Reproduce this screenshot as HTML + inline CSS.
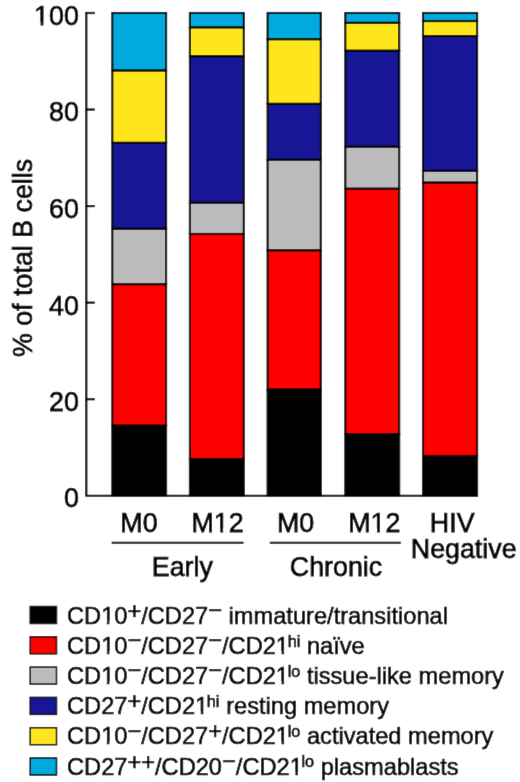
<!DOCTYPE html>
<html><head><meta charset="utf-8"><style>
html,body{margin:0;padding:0;background:#fff;}
body{width:520px;height:782px;overflow:hidden;}
svg{display:block;will-change:transform;}
text{font-family:"Liberation Sans",sans-serif;fill:#000;}
.t26{font-size:26.8px;stroke:#000;stroke-width:0.75px;}
.ttl{font-size:26.8px;stroke:#000;stroke-width:0.75px;}
.t22{font-size:24px;stroke:#000;stroke-width:0.6px;}
</style></head><body>
<svg width="520" height="782" viewBox="0 0 520 782">
<defs><filter id="soft" x="0" y="0" width="520" height="782" filterUnits="userSpaceOnUse"><feConvolveMatrix order="3" kernelMatrix="0.00524 0.06192 0.00524 0.06192 0.73137 0.06192 0.00524 0.06192 0.00524" edgeMode="duplicate"/></filter></defs>
<g filter="url(#soft)">
<rect x="0" y="0" width="520" height="782" fill="#fff"/>
<rect x="112.30" y="13.00" width="53.80" height="57.60" fill="#02aade" stroke="#000" stroke-width="2.1"/>
<rect x="112.30" y="70.60" width="53.80" height="72.30" fill="#ffe61a" stroke="#000" stroke-width="2.1"/>
<rect x="112.30" y="142.90" width="53.80" height="86.00" fill="#181896" stroke="#000" stroke-width="2.1"/>
<rect x="112.30" y="228.90" width="53.80" height="55.40" fill="#bcbcbc" stroke="#000" stroke-width="2.1"/>
<rect x="112.30" y="284.30" width="53.80" height="141.40" fill="#ff0000" stroke="#000" stroke-width="2.1"/>
<rect x="112.30" y="425.70" width="53.80" height="70.05" fill="#000000" stroke="#000" stroke-width="2.1"/>
<rect x="189.90" y="13.00" width="53.90" height="14.50" fill="#02aade" stroke="#000" stroke-width="2.1"/>
<rect x="189.90" y="27.50" width="53.90" height="28.80" fill="#ffe61a" stroke="#000" stroke-width="2.1"/>
<rect x="189.90" y="56.30" width="53.90" height="146.50" fill="#181896" stroke="#000" stroke-width="2.1"/>
<rect x="189.90" y="202.80" width="53.90" height="31.20" fill="#bcbcbc" stroke="#000" stroke-width="2.1"/>
<rect x="189.90" y="234.00" width="53.90" height="225.20" fill="#ff0000" stroke="#000" stroke-width="2.1"/>
<rect x="189.90" y="459.20" width="53.90" height="36.55" fill="#000000" stroke="#000" stroke-width="2.1"/>
<rect x="267.60" y="13.00" width="53.20" height="26.30" fill="#02aade" stroke="#000" stroke-width="2.1"/>
<rect x="267.60" y="39.30" width="53.20" height="64.60" fill="#ffe61a" stroke="#000" stroke-width="2.1"/>
<rect x="267.60" y="103.90" width="53.20" height="55.90" fill="#181896" stroke="#000" stroke-width="2.1"/>
<rect x="267.60" y="159.80" width="53.20" height="90.60" fill="#bcbcbc" stroke="#000" stroke-width="2.1"/>
<rect x="267.60" y="250.40" width="53.20" height="139.20" fill="#ff0000" stroke="#000" stroke-width="2.1"/>
<rect x="267.60" y="389.60" width="53.20" height="106.15" fill="#000000" stroke="#000" stroke-width="2.1"/>
<rect x="345.30" y="13.00" width="53.90" height="9.90" fill="#02aade" stroke="#000" stroke-width="2.1"/>
<rect x="345.30" y="22.90" width="53.90" height="27.90" fill="#ffe61a" stroke="#000" stroke-width="2.1"/>
<rect x="345.30" y="50.80" width="53.90" height="96.00" fill="#181896" stroke="#000" stroke-width="2.1"/>
<rect x="345.30" y="146.80" width="53.90" height="42.00" fill="#bcbcbc" stroke="#000" stroke-width="2.1"/>
<rect x="345.30" y="188.80" width="53.90" height="245.50" fill="#ff0000" stroke="#000" stroke-width="2.1"/>
<rect x="345.30" y="434.30" width="53.90" height="61.45" fill="#000000" stroke="#000" stroke-width="2.1"/>
<rect x="423.00" y="13.00" width="54.10" height="8.10" fill="#02aade" stroke="#000" stroke-width="2.1"/>
<rect x="423.00" y="21.10" width="54.10" height="15.00" fill="#ffe61a" stroke="#000" stroke-width="2.1"/>
<rect x="423.00" y="36.10" width="54.10" height="134.80" fill="#181896" stroke="#000" stroke-width="2.1"/>
<rect x="423.00" y="170.90" width="54.10" height="11.80" fill="#bcbcbc" stroke="#000" stroke-width="2.1"/>
<rect x="423.00" y="182.70" width="54.10" height="273.30" fill="#ff0000" stroke="#000" stroke-width="2.1"/>
<rect x="423.00" y="456.00" width="54.10" height="39.75" fill="#000000" stroke="#000" stroke-width="2.1"/>
<path d="M86.3,12.0 V495.75 H477.10" fill="none" stroke="#000" stroke-width="2.2"/>
<path d="M85.3,399.20 H94.8" stroke="#000" stroke-width="2.2"/>
<path d="M85.3,302.65 H94.8" stroke="#000" stroke-width="2.2"/>
<path d="M85.3,206.10 H94.8" stroke="#000" stroke-width="2.2"/>
<path d="M85.3,109.55 H94.8" stroke="#000" stroke-width="2.2"/>
<path d="M85.3,13.00 H94.8" stroke="#000" stroke-width="2.2"/>
<text x="78.8" y="24.900000000000002" text-anchor="end" class="t26">100</text>
<text x="78.8" y="121.2" text-anchor="end" class="t26">80</text>
<text x="78.8" y="218.4" text-anchor="end" class="t26">60</text>
<text x="78.8" y="315.0" text-anchor="end" class="t26">40</text>
<text x="78.8" y="411.2" text-anchor="end" class="t26">20</text>
<text x="78.8" y="507.3" text-anchor="end" class="t26">0</text>
<text transform="translate(31.8,257.9) rotate(-90)" text-anchor="middle" class="ttl">% of total B cells</text>
<text x="138.95" y="531.5" text-anchor="middle" class="t26">M0</text>
<text x="217.55" y="531.5" text-anchor="middle" class="t26">M12</text>
<text x="295.6" y="531.5" text-anchor="middle" class="t26">M0</text>
<text x="374.3" y="531.5" text-anchor="middle" class="t26">M12</text>
<text x="452.2" y="531.5" text-anchor="middle" class="t26">HIV</text>
<text x="463.7" y="557.7" text-anchor="middle" class="t26">Negative</text>
<path d="M111.7,542.7 H243.6 M269.8,542.7 H400.9" stroke="#000" stroke-width="2.1"/>
<text x="182.3" y="575.7" text-anchor="middle" class="t26">Early</text>
<text x="336" y="575.5" text-anchor="middle" class="t26">Chronic</text>
<rect x="30.2" y="606.50" width="26.3" height="17.0" fill="#000000" stroke="#000" stroke-width="1.5"/>
<text transform="translate(67,623.60) scale(0.985,1)" x="0" y="0" class="t22" xml:space="preserve"><tspan dy="-0.00">CD10</tspan><tspan dy="-5.00">+</tspan><tspan dy="5.00">/CD27</tspan><tspan dy="-5.90">−</tspan><tspan dy="5.90"> immature/transitional</tspan></text>
<rect x="30.2" y="636.80" width="26.3" height="17.0" fill="#ff0000" stroke="#000" stroke-width="1.5"/>
<text transform="translate(67,653.80) scale(0.985,1)" x="0" y="0" class="t22" xml:space="preserve"><tspan dy="-0.00">CD10</tspan><tspan dy="-5.90">−</tspan><tspan dy="5.90">/CD27</tspan><tspan dy="-5.90">−</tspan><tspan dy="5.90">/CD21</tspan><tspan dy="-7.20" dx="-1.4" font-size="16.5">hi</tspan><tspan dy="7.20" dx="0.1"> naïve</tspan></text>
<rect x="30.2" y="667.10" width="26.3" height="17.0" fill="#bcbcbc" stroke="#000" stroke-width="1.5"/>
<text transform="translate(67,684.00) scale(0.985,1)" x="0" y="0" class="t22" xml:space="preserve"><tspan dy="-0.00">CD10</tspan><tspan dy="-5.90">−</tspan><tspan dy="5.90">/CD27</tspan><tspan dy="-5.90">−</tspan><tspan dy="5.90">/CD21</tspan><tspan dy="-7.20" dx="-1.4" font-size="16.5">lo</tspan><tspan dy="7.20" dx="0.1"> tissue-like memory</tspan></text>
<rect x="30.2" y="697.40" width="26.3" height="17.0" fill="#181896" stroke="#000" stroke-width="1.5"/>
<text transform="translate(67,714.20) scale(0.985,1)" x="0" y="0" class="t22" xml:space="preserve"><tspan dy="-0.00">CD27</tspan><tspan dy="-5.00">+</tspan><tspan dy="5.00">/CD21</tspan><tspan dy="-7.20" dx="-1.4" font-size="16.5">hi</tspan><tspan dy="7.20" dx="0.1"> resting memory</tspan></text>
<rect x="30.2" y="727.70" width="26.3" height="17.0" fill="#ffe61a" stroke="#000" stroke-width="1.5"/>
<text transform="translate(67,744.40) scale(0.985,1)" x="0" y="0" class="t22" xml:space="preserve"><tspan dy="-0.00">CD10</tspan><tspan dy="-5.90">−</tspan><tspan dy="5.90">/CD27</tspan><tspan dy="-5.00">+</tspan><tspan dy="5.00">/CD21</tspan><tspan dy="-7.20" dx="-1.4" font-size="16.5">lo</tspan><tspan dy="7.20" dx="0.1"> activated memory</tspan></text>
<rect x="30.2" y="758.00" width="26.3" height="17.0" fill="#02aade" stroke="#000" stroke-width="1.5"/>
<text transform="translate(67,774.60) scale(0.985,1)" x="0" y="0" class="t22" xml:space="preserve"><tspan dy="-0.00">CD27</tspan><tspan dy="-5.00">++</tspan><tspan dy="5.00">/CD20</tspan><tspan dy="-5.90">−</tspan><tspan dy="5.90">/CD21</tspan><tspan dy="-7.20" dx="-1.4" font-size="16.5">lo</tspan><tspan dy="7.20" dx="0.1"> plasmablasts</tspan></text>
<path d="M34.82,21.90 L40.57,21.90 L40.57,26.90 L34.82,26.90 Z" fill="#fff"/>
<path d="M43.44,21.90 L48.98,21.90 L48.98,26.90 L43.44,26.90 Z" fill="#fff"/>
<path d="M214.53,528.50 L220.28,528.50 L220.28,533.50 L214.53,533.50 Z" fill="#fff"/>
<path d="M223.15,528.50 L228.69,528.50 L228.69,533.50 L223.15,533.50 Z" fill="#fff"/>
<path d="M371.28,528.50 L377.03,528.50 L377.03,533.50 L371.28,533.50 Z" fill="#fff"/>
<path d="M379.90,528.50 L385.44,528.50 L385.44,533.50 L379.90,533.50 Z" fill="#fff"/>
<path d="M101.65,620.81 L106.83,620.81 L106.83,625.60 L101.65,625.60 Z" fill="#fff"/>
<path d="M109.41,620.81 L114.40,620.81 L114.40,625.60 L109.41,625.60 Z" fill="#fff"/>
<path d="M101.65,651.01 L106.83,651.01 L106.83,655.80 L101.65,655.80 Z" fill="#fff"/>
<path d="M109.41,651.01 L114.40,651.01 L114.40,655.80 L109.41,655.80 Z" fill="#fff"/>
<path d="M276.38,651.01 L281.56,651.01 L281.56,655.80 L276.38,655.80 Z" fill="#fff"/>
<path d="M284.14,651.01 L289.13,651.01 L289.13,655.80 L284.14,655.80 Z" fill="#fff"/>
<path d="M101.65,681.21 L106.83,681.21 L106.83,686.00 L101.65,686.00 Z" fill="#fff"/>
<path d="M109.41,681.21 L114.40,681.21 L114.40,686.00 L109.41,686.00 Z" fill="#fff"/>
<path d="M276.38,681.21 L281.56,681.21 L281.56,686.00 L276.38,686.00 Z" fill="#fff"/>
<path d="M284.14,681.21 L289.13,681.21 L289.13,686.00 L284.14,686.00 Z" fill="#fff"/>
<path d="M195.59,711.41 L200.77,711.41 L200.77,716.20 L195.59,716.20 Z" fill="#fff"/>
<path d="M203.35,711.41 L208.34,711.41 L208.34,716.20 L203.35,716.20 Z" fill="#fff"/>
<path d="M101.65,741.61 L106.83,741.61 L106.83,746.40 L101.65,746.40 Z" fill="#fff"/>
<path d="M109.41,741.61 L114.40,741.61 L114.40,746.40 L109.41,746.40 Z" fill="#fff"/>
<path d="M276.38,741.61 L281.56,741.61 L281.56,746.40 L276.38,746.40 Z" fill="#fff"/>
<path d="M284.14,741.61 L289.13,741.61 L289.13,746.40 L284.14,746.40 Z" fill="#fff"/>
<path d="M290.18,771.81 L295.36,771.81 L295.36,776.60 L290.18,776.60 Z" fill="#fff"/>
<path d="M297.94,771.81 L302.93,771.81 L302.93,776.60 L297.94,776.60 Z" fill="#fff"/>
</g>
</svg>
</body></html>
